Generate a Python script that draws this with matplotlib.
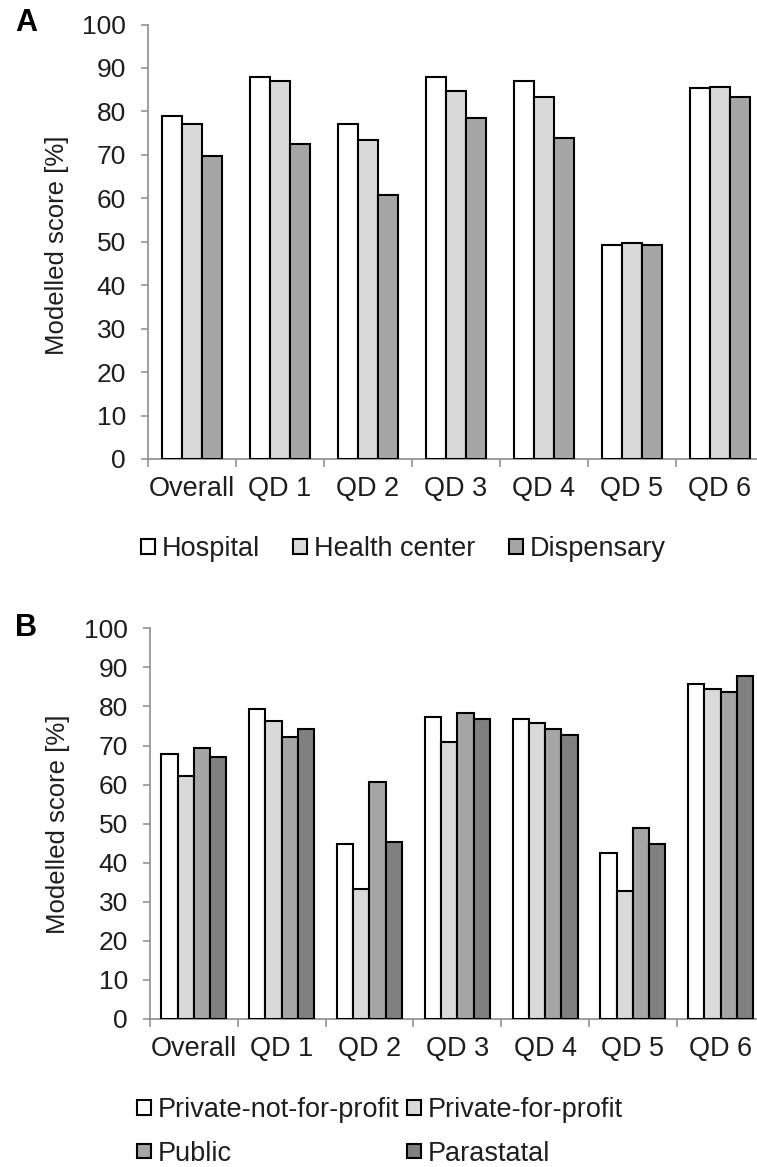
import matplotlib
matplotlib.use("Agg")
import matplotlib.pyplot as plt
from matplotlib.ticker import MultipleLocator, FixedLocator
import numpy as np

plt.rcParams['font.family'] = ['Liberation Sans', 'DejaVu Sans']

# categories shared by both panels
categories = ['Overall', 'QD 1', 'QD 2', 'QD 3', 'QD 4', 'QD 5', 'QD 6']

# panel A - facility type
hospital = [79.0, 88.0, 77.1, 88.0, 87.1, 49.2, 85.3]
health_center = [77.0, 87.1, 73.4, 84.7, 83.3, 49.8, 85.7]
dispensary = [69.7, 72.4, 60.7, 78.5, 73.9, 49.2, 83.3]
labels_a = ['Hospital', 'Health center', 'Dispensary']
colors_a = ['#ffffff', '#d9d9d9', '#a6a6a6']

# panel B - ownership
private_nfp = [67.9, 79.4, 44.7, 77.4, 76.9, 42.6, 85.8]
private_fp = [62.2, 76.4, 33.3, 71.0, 75.8, 32.8, 84.4]
public = [69.4, 72.3, 60.6, 78.4, 74.2, 48.9, 83.8]
parastatal = [67.0, 74.2, 45.2, 76.9, 72.7, 44.7, 87.9]
labels_b = ['Private-not-for-profit', 'Private-for-profit', 'Public', 'Parastatal']
colors_b = ['#ffffff', '#d9d9d9', '#a6a6a6', '#808080']

TXT = '#1e1e1e'
AXC = '#8c8c8c'

W, H = 757, 1167
fig = plt.figure(figsize=(W / 100, H / 100), dpi=100)


def style_axis(ax):
    x = np.arange(len(categories))
    ax.set_xlim(-0.5, len(categories) - 0.5)
    ax.set_ylim(0, 100)
    ax.yaxis.set_major_locator(MultipleLocator(10))
    ax.set_xticks(x)
    ax.set_xticklabels(categories)
    ax.xaxis.set_minor_locator(FixedLocator(np.arange(-0.5, len(categories), 1.0)))
    ax.tick_params(axis='x', which='major', length=0, pad=12, labelsize=19.5, labelcolor=TXT)
    ax.tick_params(axis='x', which='minor', length=6, width=1.1, color=AXC, direction='out')
    ax.tick_params(axis='y', length=5, width=1.1, color=AXC, pad=11, labelsize=19, labelcolor=TXT)
    for s in ['top', 'right']:
        ax.spines[s].set_visible(False)
    for s in ['left', 'bottom']:
        ax.spines[s].set_color(AXC)
        ax.spines[s].set_linewidth(1.2)


def grouped_bars(ax, series, labels, colors, group_w):
    x = np.arange(len(categories))
    n = len(series)
    bw = group_w / n
    handles = []
    for i, (vals, lab, col) in enumerate(zip(series, labels, colors)):
        off = (i - (n - 1) / 2) * bw
        b = ax.bar(x + off, vals, bw, color=col, edgecolor='black', linewidth=1.5,
                   label=lab, zorder=3)
        handles.append(b)
    return handles


# ---- panel A ----
axA = fig.add_axes([148 / W, 1 - 459 / H, 615.6 / W, (459 - 24.5) / H])
hA = grouped_bars(axA, [hospital, health_center, dispensary], labels_a, colors_a, 0.685)
style_axis(axA)
fig.text(57 / W, 1 - 245 / H, 'Modelled score [%]', rotation=90, ha='center', va='center',
         fontsize=18.5, color=TXT)
fig.text(26 / W, 1 - 23 / H, 'A', ha='center', va='center', fontsize=22, weight='bold', color='black')
legA = fig.legend(handles=hA, labels=labels_a, loc='center left',
                  bbox_to_anchor=(141 / W, 1 - 549 / H), ncol=3, frameon=False,
                  fontsize=19.5, handlelength=0.5, handleheight=0.45, handletextpad=0.25,
                  columnspacing=1.25, borderpad=0, borderaxespad=0)
for t in legA.get_texts():
    t.set_color(TXT)

# ---- panel B ----
axB = fig.add_axes([150 / W, 1 - 1019 / H, 614.6 / W, (1019 - 628.3) / H])
hB = grouped_bars(axB, [private_nfp, private_fp, public, parastatal], labels_b, colors_b, 0.74)
style_axis(axB)
fig.text(58 / W, 1 - 824 / H, 'Modelled score [%]', rotation=90, ha='center', va='center',
         fontsize=18.5, color=TXT)
fig.text(26 / W, 1 - 628 / H, 'B', ha='center', va='center', fontsize=22, weight='bold', color='black')
# order so rows read: PNFP, PFP / Public, Parastatal
order = [0, 2, 1, 3]
legB = fig.legend(handles=[hB[i] for i in order], labels=[labels_b[i] for i in order],
                  loc='center left', bbox_to_anchor=(137 / W, 1 - 1132 / H), ncol=2,
                  frameon=False, fontsize=19.5, handlelength=0.5, handleheight=0.45,
                  handletextpad=0.25, columnspacing=0.3, labelspacing=0.65,
                  borderpad=0, borderaxespad=0)
for t in legB.get_texts():
    t.set_color(TXT)

fig.savefig('out.png', dpi=100, facecolor='white')
